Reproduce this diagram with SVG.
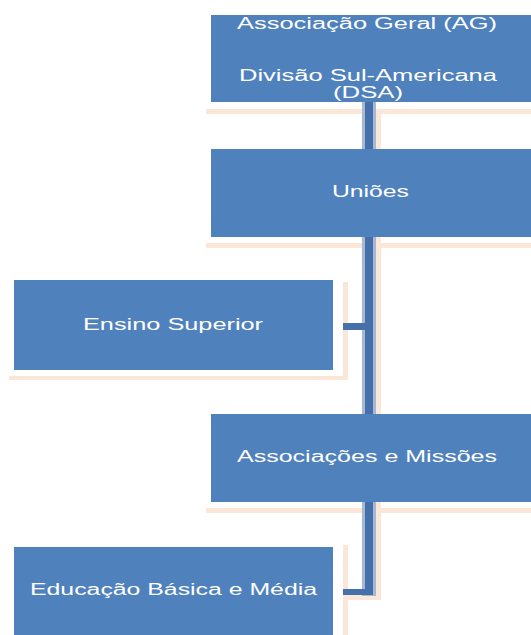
<svg xmlns="http://www.w3.org/2000/svg" width="531" height="635" viewBox="0 0 531 635">
<style>
.box{fill:#4f81bd}
.sh{fill:#fbe7d7}
.lt{fill:#a7b8d4}
.dk{fill:#4570a9}
text{font-family:"Liberation Sans",Arial,sans-serif;font-size:16px;fill:#ffffff}
</style>
<rect width="531" height="635" fill="#ffffff"/>
<g id="shadows">
<rect class="sh" x="206" y="109" width="325" height="5"/>
<rect class="sh" x="206" y="243" width="325" height="5"/>
<rect class="sh" x="206" y="508" width="325" height="5"/>
<rect class="sh" x="343" y="282" width="5" height="98"/>
<rect class="sh" x="9" y="376" width="339" height="4"/>
<rect class="sh" x="343" y="545" width="5" height="90"/>
</g>
<g id="connectors">
<rect class="sh" x="376" y="109" width="5" height="491"/>
<rect class="sh" x="343" y="595" width="38" height="5"/>
<rect class="lt" x="362" y="102" width="14" height="494"/>
<rect class="dk" x="365" y="102" width="8" height="493"/>
<rect class="dk" x="343" y="323" width="22" height="7"/>
<rect class="dk" x="343" y="589" width="30" height="6"/>
</g>
<g id="n1">
<rect class="box" x="211" y="15" width="320" height="87"/>
<text x="237" y="29" textLength="260" lengthAdjust="spacingAndGlyphs">Associação Geral (AG)</text>
<text x="239" y="81" textLength="258" lengthAdjust="spacingAndGlyphs">Divisão Sul-Americana</text>
<text x="333" y="98" textLength="70" lengthAdjust="spacingAndGlyphs">(DSA)</text>
</g>
<g id="n2">
<rect class="box" x="211" y="149" width="320" height="88"/>
<text x="332" y="197" textLength="77" lengthAdjust="spacingAndGlyphs">Uniões</text>
</g>
<g id="n3">
<rect class="box" x="14" y="280" width="319" height="90"/>
<text x="83" y="330" textLength="180" lengthAdjust="spacingAndGlyphs">Ensino Superior</text>
</g>
<g id="n4">
<rect class="box" x="211" y="414" width="320" height="88"/>
<text x="237" y="462" textLength="260" lengthAdjust="spacingAndGlyphs">Associações e Missões</text>
</g>
<g id="n5">
<rect class="box" x="14" y="547" width="319" height="88"/>
<text x="30" y="595" textLength="287" lengthAdjust="spacingAndGlyphs">Educação Básica e Média</text>
</g>
</svg>
